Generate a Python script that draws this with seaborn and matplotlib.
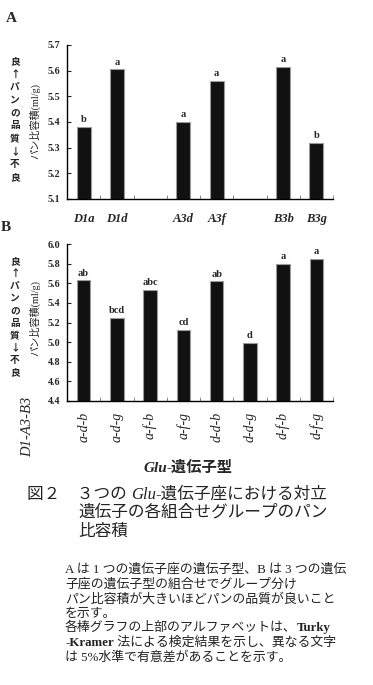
import numpy as np
import pandas as pd
import matplotlib
matplotlib.use("Agg")
import matplotlib.pyplot as plt
import seaborn as sns

# Panel A: one locus at a time
genes_a = ["D1a", "D1d", "A3d", "A3f", "B3b", "B3g"]
vol_a = [5.38, 5.605, 5.40, 5.56, 5.615, 5.32]
sig_a = ["b", "a", "a", "a", "a", "b"]
slots_a = ["D1a", "D1d", " ", "A3d", "A3f", "  ", "B3b", "B3g"]
ticks_a = [5.1, 5.2, 5.3, 5.4, 5.5, 5.6, 5.7]

# Panel B: combinations of the three loci
genes_b = ["a-d-b", "a-d-g", "a-f-b", "a-f-g", "d-d-b", "d-d-g", "d-f-b", "d-f-g"]
vol_b = [5.63, 5.25, 5.53, 5.125, 5.62, 4.99, 5.80, 5.85]
sig_b = ["ab", "bcd", "abc", "cd", "ab", "d", "a", "a"]
ticks_b = [4.4, 4.6, 4.8, 5.0, 5.2, 5.4, 5.6, 5.8, 6.0]

quality_label = ["良", "↑", "パ", "ン", "の", "品", "質", "↓", "不", "良"]
caption_body = [
    "A は 1 つの遺伝子座の遺伝子型、B は 3 つの遺伝",
    "子座の遺伝子型の組合せでグループ分け",
    "パン比容積が大きいほどパンの品質が良いこと",
    "を示す。",
    "各棒グラフの上部のアルファベットは、",
    " 法による検定結果を示し、異なる文字",
    "は 5%水準で有意差があることを示す。",
]

sns.set_style("ticks")
SERIF = ["Liberation Serif", "Noto Sans CJK JP", "DejaVu Sans"]
plt.rcParams["font.family"] = SERIF

W, H = 373, 685
fig = plt.figure(figsize=(W / 100, H / 100), dpi=100)


def fx(x):
    return x / W


def fy(y):
    return 1 - y / H


def style_axes(ax, ticks):
    sns.despine(ax=ax)
    ax.set_xlim(-0.5, 7.5)
    ax.set_ylim(ticks[0], ticks[-1])
    ax.set_yticks(ticks)
    ax.set_yticklabels([f"{t:.1f}" for t in ticks], fontsize=7.2, fontweight="bold")
    ax.tick_params(axis="y", direction="in", length=3, width=0.8, pad=5)
    ax.set_xticks(np.arange(0.5, 8, 1), minor=True)
    ax.tick_params(axis="x", which="major", length=0)
    ax.tick_params(axis="x", which="minor", direction="in", length=3, width=0.6, color="#777777")
    for s in ["left", "bottom"]:
        ax.spines[s].set_linewidth(1.0)
        ax.spines[s].set_color("black")
    ax.set_xlabel("")
    ax.set_ylabel("")


def vertical_text(x, y_top, y_bot, chars):
    step = (y_bot - y_top) / (len(chars) - 1)
    for i, c in enumerate(chars):
        fig.text(fx(x), fy(y_top + i * step), c, ha="center", va="center",
                 fontsize=7, fontweight="bold", family=["Noto Sans CJK JP", "DejaVu Sans"])


# ---- Panel A ----
axA = fig.add_axes([fx(67), fy(199), fx(333) - fx(67), fy(45) - fy(199)])
dfA = pd.DataFrame({"gene": genes_a, "vol": vol_a})
sns.barplot(data=dfA, x="gene", y="vol", order=slots_a, color="#111111",
            edgecolor="#9a9a9a", linewidth=0.8, width=0.42, saturation=1, ax=axA)
style_axes(axA, ticks_a)
axA.set_xticks(np.arange(len(slots_a)))
axA.set_xticklabels(slots_a, fontsize=9, fontweight="bold", fontstyle="italic")
axA.tick_params(axis="x", which="major", pad=10)
for g, v, s in zip(genes_a, vol_a, sig_a):
    axA.annotate(s, (slots_a.index(g), v), xytext=(0, 2), textcoords="offset points",
                 ha="center", va="bottom", fontsize=7.5, fontweight="bold")

# ---- Panel B ----
axB = fig.add_axes([fx(67), fy(401), fx(333) - fx(67), fy(244) - fy(401)])
dfB = pd.DataFrame({"gene": genes_b, "vol": vol_b})
sns.barplot(data=dfB, x="gene", y="vol", order=genes_b, color="#111111",
            edgecolor="#9a9a9a", linewidth=0.8, width=0.4, saturation=1, ax=axB)
style_axes(axB, ticks_b)
axB.set_xticks(np.arange(len(genes_b)))
axB.set_xticklabels(genes_b, fontsize=10, fontstyle="italic", rotation=90, va="top")
axB.tick_params(axis="x", which="major", pad=8)
for i, (v, s) in enumerate(zip(vol_b, sig_b)):
    axB.annotate(s, (i, v), xytext=(0, 2), textcoords="offset points",
                 ha="center", va="bottom", fontsize=7.5, fontweight="bold")

# axis labels / panel letters
fig.text(fx(11.5), fy(18), "A", fontsize=11, fontweight="bold", ha="center", va="center")
fig.text(fx(6), fy(227.5), "B", fontsize=11, fontweight="bold", ha="center", va="center")
vertical_text(15, 61, 177, quality_label)
vertical_text(15, 261, 372, quality_label)
fig.text(fx(35), fy(121), "パン比容積(ml/g)", rotation=90, ha="center", va="center",
         fontsize=7.3, color="#222222")
fig.text(fx(35), fy(318), "パン比容積(ml/g)", rotation=90, ha="center", va="center",
         fontsize=7.3, color="#222222")
fig.text(fx(28), fy(427), "D1-A3-B3", rotation=90, ha="center", va="center",
         fontsize=10.5, fontstyle="italic")

# overlay axes for chained text
cap = fig.add_axes([0, 0, 1, 1])
cap.axis("off")
cap.patch.set_alpha(0)
cap.set_xlim(0, W)
cap.set_ylim(H, 0)

t = cap.text(143, 475, "Glu", fontsize=11, fontweight="bold", fontstyle="italic", va="bottom")
cap.annotate("-遺伝子型", xy=(1, 0), xycoords=t, va="bottom", fontsize=11, fontweight="bold")

t = cap.text(27, 503, "図２　３つの ", fontsize=12, va="bottom", color="#222222")
t = cap.annotate("Glu", xy=(1, 0), xycoords=t, va="bottom", fontsize=12,
                 fontstyle="italic", color="#222222")
cap.annotate("-遺伝子座における対立", xy=(1, 0), xycoords=t, va="bottom", fontsize=12,
             color="#222222")
cap.text(78, 513, "遺伝子の各組合せグループのパン", fontsize=12, va="center", color="#222222")
cap.text(78, 532, "比容積", fontsize=12, va="center", color="#222222")

body_y = [570, 585, 600, 614, 628, 643, 657]
for i, (y, line) in enumerate(zip(body_y, caption_body)):
    if i == 4:
        t = cap.text(65, y, line, fontsize=9.3, va="center", color="#222222")
        cap.annotate("Turky", xy=(1, 0.5), xycoords=t, va="center", fontsize=9.3,
                     fontweight="bold", color="#222222")
    elif i == 5:
        t = cap.text(65, y, "-Kramer", fontsize=9.3, va="center", fontweight="bold",
                     color="#222222")
        cap.annotate(line, xy=(1, 0.5), xycoords=t, va="center", fontsize=9.3,
                     color="#222222")
    else:
        cap.text(65, y, line, fontsize=9.3, va="center", color="#222222")

fig.savefig("out.png", dpi=100)
